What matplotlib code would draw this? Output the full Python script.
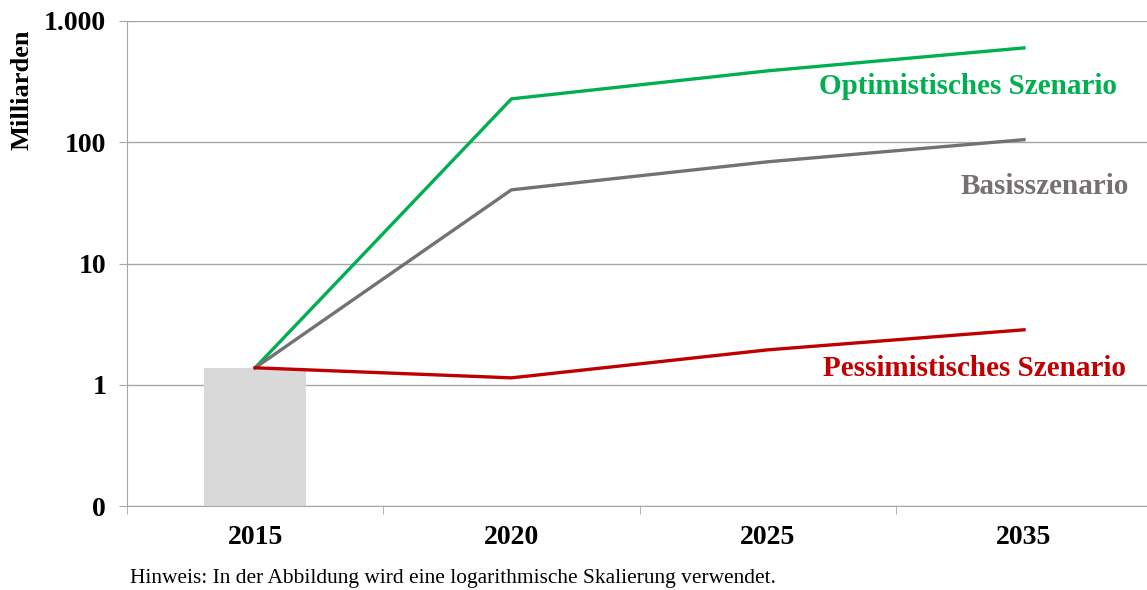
import matplotlib
matplotlib.use('Agg')
import matplotlib.pyplot as plt
import numpy as np

# ── Data ───────────────────────────────────────────────────────────────────
years = ['2015', '2020', '2025', '2035']
base_2015 = 1.38
optimistic = [1.38, 228, 388, 600]
basis = [1.38, 40.5, 69, 105]
pessimistic = [1.38, 1.14, 1.94, 2.84]
ytick_vals = [0.1, 1, 10, 100, 1000]
ytick_labels = ['0', '1', '10', '100', '1.000']
y_floor = 0.1

GREEN = '#00B050'
GREY = '#767171'
RED = '#C00000'
W, H = 1147, 590

plt.rcParams['font.family'] = ['Liberation Serif', 'DejaVu Serif']

fig = plt.figure(figsize=(W / 100, H / 100), dpi=100)
ax = fig.add_axes([127 / W, 1 - 506 / H, 1020 / W, (506 - 21) / H])

x = np.arange(len(years))
ax.bar(x[:1], [base_2015 - y_floor], width=0.4, bottom=y_floor,
       color='#D9D9D9', zorder=1)
ax.plot(x, optimistic, color=GREEN, lw=2.4, zorder=3)
ax.plot(x, basis, color=GREY, lw=2.4, zorder=3)
ax.plot(x, pessimistic, color=RED, lw=2.4, zorder=3)

ax.set_yscale('log')
ax.set_yticks(ytick_vals)
ax.set_yticklabels(ytick_labels, fontsize=20, fontweight='bold')
ax.yaxis.set_minor_locator(matplotlib.ticker.NullLocator())
ax.set_xticks(x)
ax.set_xticklabels(years, fontsize=20, fontweight='bold')
ax.set_xticks(np.arange(-0.5, 3.0, 1), minor=True)
ax.set_ylim(y_floor, 1000)
ax.set_xlim(-0.5, 3.48)
ax.tick_params(axis='x', which='major', length=0, pad=14)
ax.tick_params(axis='x', which='minor', length=6, color='#A6A6A6')
ax.tick_params(axis='y', length=6, color='#A6A6A6', pad=9)
ax.grid(axis='y', color='#A6A6A6', lw=1)
ax.set_axisbelow(True)
for s in ['top', 'right']:
    ax.spines[s].set_visible(False)
for s in ['left', 'bottom']:
    ax.spines[s].set_color('#A6A6A6')

fig.text(22 / W, 1 - 90 / H, 'Milliarden', fontsize=19, fontweight='bold',
         rotation=90, ha='center', va='center')

# ── Series labels ──────────────────────────────────────────────────────────
fig.text(1117 / W, 1 - 86 / H, 'Optimistisches Szenario', color=GREEN,
         fontsize=21, fontweight='bold', ha='right', va='center')
fig.text(1129 / W, 1 - 186 / H, 'Basisszenario', color=GREY,
         fontsize=21, fontweight='bold', ha='right', va='center')
fig.text(1126 / W, 1 - 369 / H, 'Pessimistisches Szenario', color=RED,
         fontsize=21, fontweight='bold', ha='right', va='center')

fig.text(130 / W, 1 - 578 / H,
         'Hinweis: In der Abbildung wird eine logarithmische Skalierung verwendet.',
         fontsize=15.4, ha='left', va='center')

fig.savefig('out.png', dpi=100)
